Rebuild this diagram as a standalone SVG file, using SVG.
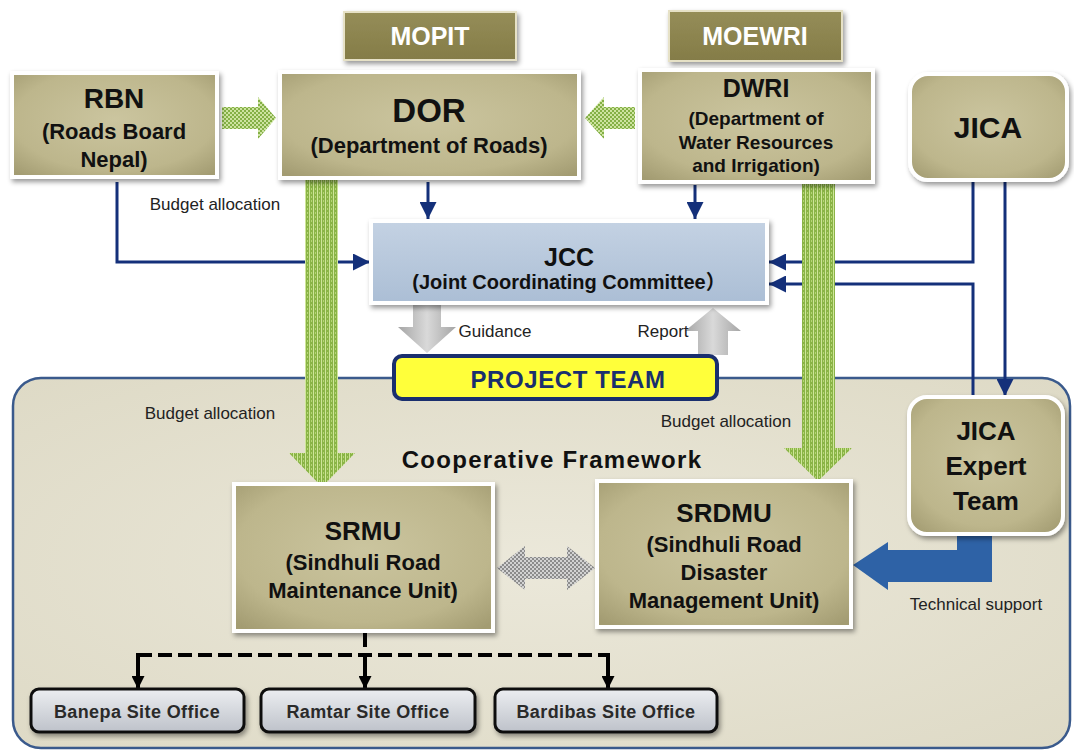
<svg xmlns="http://www.w3.org/2000/svg" width="1074" height="751" viewBox="0 0 1074 751">
<style>
text{font-family:"Liberation Sans",Arial,"Noto Sans CJK JP",sans-serif;text-anchor:middle}
.b{font-weight:bold;fill:#111}
.w{font-weight:bold;fill:#fff}
.lbl{fill:#222;font-size:17px}
.node{stroke:#fff;stroke-width:4;filter:url(#sh)}
.kh{fill:url(#khaki)}
.nav{fill:none;stroke:#14307a;stroke-width:3}
.dash{fill:none;stroke:#000;stroke-width:4;stroke-dasharray:14 6}
.leg{fill:none;stroke:#000;stroke-width:4}
.off{fill:url(#offg);stroke:#111;stroke-width:3;filter:url(#sh)}
.ot{font-size:18px;font-weight:bold;fill:#2a2a2a;letter-spacing:0.4px}
</style>
<defs>
<filter id="sh" x="-10%" y="-10%" width="125%" height="130%"><feDropShadow dx="2" dy="3" stdDeviation="2.5" flood-color="#000" flood-opacity="0.4"/></filter>
<radialGradient id="khaki" cx="50%" cy="45%" r="70%"><stop offset="0" stop-color="#cbc59f"/><stop offset="0.7" stop-color="#bdb68c"/><stop offset="1" stop-color="#a39c72"/></radialGradient>
<linearGradient id="olive" x1="0" y1="0" x2="0" y2="1"><stop offset="0" stop-color="#958d58"/><stop offset="1" stop-color="#847c47"/></linearGradient>
<linearGradient id="jccg" x1="0" y1="0" x2="0" y2="1"><stop offset="0" stop-color="#c4d2e3"/><stop offset="1" stop-color="#abbed5"/></linearGradient>
<linearGradient id="offg" x1="0" y1="0" x2="0" y2="1"><stop offset="0" stop-color="#eceef1"/><stop offset="1" stop-color="#bec2ca"/></linearGradient>
<linearGradient id="grayg" x1="0" y1="0" x2="1" y2="0"><stop offset="0" stop-color="#a5a5a5"/><stop offset="0.5" stop-color="#d9d9d9"/><stop offset="1" stop-color="#a5a5a5"/></linearGradient>
<radialGradient id="cont" cx="50%" cy="50%" r="70%"><stop offset="0" stop-color="#ebe8da"/><stop offset="1" stop-color="#dedac6"/></radialGradient>
<pattern id="greenV" width="4" height="4" patternUnits="userSpaceOnUse"><rect width="4" height="4" fill="#8ab446"/><rect x="1" width="1" height="4" fill="#cfe69a"/><rect x="3" y="0" width="1" height="2" fill="#b5d575"/></pattern>
<pattern id="greenC" width="4" height="4" patternUnits="userSpaceOnUse"><rect width="4" height="4" fill="#84b046"/><rect width="2" height="2" fill="#cde3a0"/><rect x="2" y="2" width="2" height="2" fill="#cde3a0"/></pattern>
<pattern id="grayC" width="4" height="4" patternUnits="userSpaceOnUse"><rect width="4" height="4" fill="#8c8c8c"/><rect width="2" height="2" fill="#d2d2d2"/><rect x="2" y="2" width="2" height="2" fill="#d2d2d2"/></pattern>
<marker id="an" viewBox="0 0 10 10" refX="10" refY="5" markerUnits="userSpaceOnUse" markerWidth="17" markerHeight="17" orient="auto"><path d="M0,0 L10,5 L0,10 z" fill="#14307a"/></marker>
<marker id="ab" viewBox="0 0 10 10" refX="10" refY="5" markerUnits="userSpaceOnUse" markerWidth="13" markerHeight="13" orient="auto"><path d="M0,0 L10,5 L0,10 z" fill="#000"/></marker>
</defs>
<rect width="1074" height="751" fill="#fff"/>
<g id="cooperative-framework">
<rect x="13" y="378" width="1057" height="370" rx="28" fill="url(#cont)" stroke="#3a5a8c" stroke-width="2.5"/>
<text x="552" y="468" class="b" style="font-size:24px;letter-spacing:1.3px">Cooperative Framework</text>
</g>
<g id="connectors">
<path class="nav" d="M117,182 V262 H370" marker-end="url(#an)"/>
<path class="nav" d="M428,182 V219" marker-end="url(#an)"/>
<path class="nav" d="M695,185 V219" marker-end="url(#an)"/>
<path class="nav" d="M973,182 V262 H769" marker-end="url(#an)"/>
<path class="nav" d="M973,397 V284 H769" marker-end="url(#an)"/>
<path class="nav" d="M1005,182 V396" marker-end="url(#an)"/>
<path d="M305,180 H338 V453 H355 L322,487 L289,453 H305 Z" fill="url(#greenV)"/>
<path d="M802,183 H835 V448 H852 L818,481 L784,448 H802 Z" fill="url(#greenV)"/>
<path d="M222,107 H258 V97 L276,118 L258,139 V129 H222 Z" fill="url(#greenC)"/>
<path d="M635,107 H604 V97 L585,118 L604,139 V129 H635 Z" fill="url(#greenC)"/>
<path d="M497,568 L525,546 V557 H567 V546 L595,568 L567,590 V579 H525 V590 Z" fill="url(#grayC)"/>
<path d="M413,305 H441 V327 H456 L427,353 L398,327 H413 Z" fill="url(#grayg)"/>
<path d="M698,355 H728 V331 H741 L713,308 L685,331 H698 Z" fill="url(#grayg)"/>
<path d="M957,530 H992 V582 H888 V590 L853,565 L888,542 V550 H957 Z" fill="#2e62a6"/>
<path class="dash" d="M365,633 V655 M138,655 H608"/>
<path class="leg" d="M138,653 V689" marker-end="url(#ab)"/>
<path class="leg" d="M365,653 V689" marker-end="url(#ab)"/>
<path class="leg" d="M608,653 V689" marker-end="url(#ab)"/>
<text x="215" y="210" class="lbl">Budget allocation</text>
<text x="210" y="419" class="lbl">Budget allocation</text>
<text x="726" y="427" class="lbl">Budget allocation</text>
<text x="495" y="337" class="lbl">Guidance</text>
<text x="663" y="337" class="lbl">Report</text>
<text x="976" y="610" class="lbl">Technical support</text>
</g>
<g id="mopit">
<rect x="344" y="12" width="172" height="48" fill="url(#olive)" stroke="#e6e1c6" stroke-width="2" filter="url(#sh)"/>
<text x="430" y="45" class="w" style="font-size:25px">MOPIT</text>
</g>
<g id="moewri">
<rect x="669" y="11" width="173" height="50" fill="url(#olive)" stroke="#e6e1c6" stroke-width="2" filter="url(#sh)"/>
<text x="755" y="45" class="w" style="font-size:25px">MOEWRI</text>
</g>
<g id="rbn">
<rect x="12" y="73" width="205" height="104" class="node kh"/>
<text x="114" y="108" class="b" style="font-size:28px">RBN</text>
<text x="114" y="139" class="b" style="font-size:22px">(Roads Board</text>
<text x="114" y="167" class="b" style="font-size:22px">Nepal)</text>
</g>
<g id="dor">
<rect x="280" y="72" width="299" height="106" class="node kh"/>
<text x="429" y="122" class="b" style="font-size:33px">DOR</text>
<text x="429" y="153" class="b" style="font-size:22px">(Department of Roads)</text>
</g>
<g id="dwri">
<rect x="640" y="70" width="233" height="112" class="node kh"/>
<text x="756" y="97" class="b" style="font-size:25px">DWRI</text>
<text x="756" y="125" class="b" style="font-size:19px">(Department of</text>
<text x="756" y="149" class="b" style="font-size:19px">Water Resources</text>
<text x="756" y="172" class="b" style="font-size:19px">and Irrigation)</text>
</g>
<g id="jica">
<rect x="910" y="74" width="157" height="106" rx="18" class="node kh"/>
<text x="988" y="138" class="b" style="font-size:30px">JICA</text>
</g>
<g id="jcc">
<rect x="371" y="221" width="396" height="82" fill="url(#jccg)" class="node"/>
<text x="569" y="266" class="b" style="font-size:25px">JCC</text>
<text x="569" y="289" class="b" style="font-size:20px">(Joint Coordinating Committee）</text>
</g>
<g id="project-team">
<rect x="394" y="356" width="323" height="43" rx="8" fill="#ffff3a" stroke="#1a2f6e" stroke-width="4"/>
<text x="568" y="388" style="font-size:24px;font-weight:bold;fill:#1a2f6e;letter-spacing:0.6px">PROJECT TEAM</text>
</g>
<g id="srmu">
<rect x="234" y="484" width="259" height="147" class="node kh"/>
<text x="363" y="540" class="b" style="font-size:26px">SRMU</text>
<text x="363" y="570" class="b" style="font-size:22px">(Sindhuli Road</text>
<text x="363" y="598" class="b" style="font-size:22px">Maintenance Unit)</text>
</g>
<g id="srdmu">
<rect x="597" y="481" width="254" height="146" class="node kh"/>
<text x="724" y="522" class="b" style="font-size:26px">SRDMU</text>
<text x="724" y="552" class="b" style="font-size:22px">(Sindhuli Road</text>
<text x="724" y="580" class="b" style="font-size:22px">Disaster</text>
<text x="724" y="608" class="b" style="font-size:22px">Management Unit)</text>
</g>
<g id="jica-expert-team">
<rect x="909" y="397" width="154" height="137" rx="18" class="node kh"/>
<text x="986" y="440" class="b" style="font-size:26px">JICA</text>
<text x="986" y="475" class="b" style="font-size:26px">Expert</text>
<text x="986" y="510" class="b" style="font-size:26px">Team</text>
</g>
<g id="banepa">
<rect x="31" y="689" width="213" height="43" rx="8" class="off"/>
<text x="137" y="718" class="ot">Banepa Site Office</text>
</g>
<g id="ramtar">
<rect x="261" y="689" width="214" height="43" rx="8" class="off"/>
<text x="368" y="718" class="ot">Ramtar Site Office</text>
</g>
<g id="bardibas">
<rect x="495" y="689" width="222" height="43" rx="8" class="off"/>
<text x="606" y="718" class="ot">Bardibas Site Office</text>
</g>
</svg>
